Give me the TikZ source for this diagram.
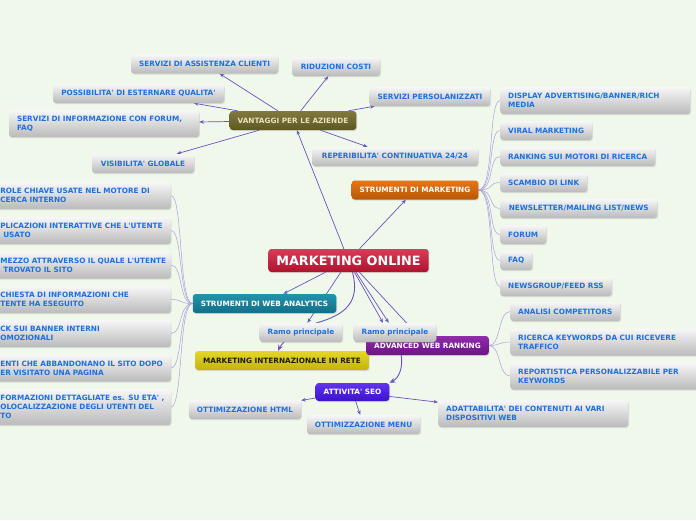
\documentclass[tikz,border=0pt]{standalone}
\usepackage{fontspec}
\setmainfont{DejaVu Sans}[Ligatures=TeXOff]
\usetikzlibrary{shadows,calc,arrows.meta}
\pgfdeclarelayer{bg}
\pgfsetlayers{bg,main}
\definecolor{bgc}{RGB}{240,248,236}
\definecolor{leafblue}{RGB}{28,112,224}
\definecolor{linec}{RGB}{106,82,196}
\definecolor{thinc}{RGB}{172,160,220}
\tikzset{
  base/.style={rounded corners=3pt, draw=none, inner xsep=8pt, inner ysep=0pt,
    font=\fontsize{7.3}{9}\selectfont\bfseries,
    drop shadow={shadow xshift=0.8pt, shadow yshift=-1.2pt, opacity=0.22}},
  leaf/.style={base, top color=white!97!black, bottom color=black!27, text=leafblue, minimum height=19pt},
  multi/.style={leaf, text width=174pt, align=left, minimum height=27pt},
  cutl/.style={leaf, text width=162.5pt, align=left, minimum height=27pt, anchor=east},
  mainc/.style={base, minimum height=19pt, text=white},
  arr/.style={draw=linec, line width=0.7pt, -{Stealth[length=4.5pt,width=3.6pt]}},
  arrb/.style={draw=linec, line width=0.9pt, -{Stealth[length=6pt,width=5pt]}},
  thinl/.style={draw=thinc, line width=0.5pt}
}
\begin{document}
\begin{tikzpicture}[x=1pt,y=-1pt]
\useasboundingbox (0,0) rectangle (696,520);

% central node
\node[base, minimum width=159pt, minimum height=23pt, text=white,
  top color={rgb,255:red,212;green,62;blue,88}, bottom color={rgb,255:red,176;green,18;blue,46},
  font=\fontsize{12.8}{14}\selectfont\bfseries] (MO) at (348.5,260.5) {MARKETING ONLINE};

% VANTAGGI
\node[mainc, minimum width=124pt, text={rgb,255:red,232;green,226;blue,188},
  top color={rgb,255:red,128;green,122;blue,62}, bottom color={rgb,255:red,92;green,88;blue,34}]
  (VANT) at (293,120.5) {VANTAGGI PER LE AZIENDE};
\node[leaf, minimum width=147pt] (SAC) at (204.5,64) {SERVIZI DI ASSISTENZA CLIENTI};
\node[leaf, minimum width=88pt] (RID) at (336,66.5) {RIDUZIONI COSTI};
\node[leaf, minimum width=171pt] (POSS) at (138.5,93.5) {POSSIBILITA' DI ESTERNARE QUALITA'};
\node[leaf, minimum width=120pt] (SPERS) at (430,96.5) {SERVIZI PERSOLANIZZATI};
\node[multi] (SINFO) at (104,123.5) {SERVIZI DI INFORMAZIONE CON FORUM,\\FAQ};
\node[leaf, minimum width=102pt] (VIS) at (143,163.5) {VISIBILITA' GLOBALE};
\node[leaf, minimum width=166pt] (REP) at (395,156.5) {REPERIBILITA' CONTINUATIVA 24/24};

% STRUMENTI DI MARKETING
\node[mainc, minimum width=124pt,
  top color={rgb,255:red,230;green,118;blue,22}, bottom color={rgb,255:red,184;green,88;blue,6}]
  (SM) at (415,190) {STRUMENTI DI MARKETING};
\node[multi, anchor=west] (D1) at (500,100.5) {DISPLAY ADVERTISING/BANNER/RICH\\MEDIA};
\node[leaf, anchor=west, minimum width=90pt] (D2) at (500,130.5) {VIRAL MARKETING};
\node[leaf, anchor=west, minimum width=154pt] (D3) at (500,156.5) {RANKING SUI MOTORI DI RICERCA};
\node[leaf, anchor=west, minimum width=86pt] (D4) at (500,182.5) {SCAMBIO DI LINK};
\node[leaf, anchor=west, minimum width=157pt] (D5) at (500,208.5) {NEWSLETTER/MAILING LIST/NEWS};
\node[leaf, anchor=west, minimum width=43pt] (D6) at (500,234.5) {FORUM};
\node[leaf, anchor=west, minimum width=31pt] (D7) at (500,260.5) {FAQ};
\node[leaf, anchor=west, minimum width=108pt] (D8) at (500,286.5) {NEWSGROUP/FEED RSS};

% WEB ANALYTICS
\node[mainc, minimum width=141pt,
  top color={rgb,255:red,34;green,148;blue,172}, bottom color={rgb,255:red,18;green,110;blue,136}]
  (WA) at (264.5,303.5) {STRUMENTI DI WEB ANALYTICS};
\node[cutl] (A1) at (171,195.5) {\mbox{ROLE CHIAVE USATE NEL MOTORE DI}\\\mbox{CERCA INTERNO}};
\node[cutl] (A2) at (171,230.5) {\mbox{PLICAZIONI INTERATTIVE CHE L'UTENTE}\\\mbox{\hspace*{3pt}USATO}};
\node[cutl] (A3) at (171,265) {\mbox{MEZZO ATTRAVERSO IL QUALE L'UTENTE}\\\mbox{\hspace*{3pt}TROVATO IL SITO}};
\node[cutl] (A4) at (171,299.5) {\mbox{CHIESTA DI INFORMAZIONI CHE}\\\mbox{TENTE HA ESEGUITO}};
\node[cutl] (A5) at (171,333.5) {\mbox{CK SUI BANNER INTERNI}\\\mbox{OMOZIONALI}};
\node[cutl] (A6) at (171,368) {\mbox{ENTI CHE ABBANDONANO IL SITO DOPO}\\\mbox{ER VISITATO UNA PAGINA}};
\node[cutl, minimum height=36pt] (A7) at (171,407) {\mbox{FORMAZIONI DETTAGLIATE es. SU ETA' ,}\\\mbox{OLOCALIZZAZIONE DEGLI UTENTI DEL}\\\mbox{TO}};

% MARKETING INTERNAZIONALE
\node[mainc, minimum width=170pt, text={rgb,255:red,30;green,28;blue,0},
  top color={rgb,255:red,228;green,214;blue,40}, bottom color={rgb,255:red,196;green,180;blue,14}]
  (MI) at (282,360.5) {MARKETING INTERNAZIONALE IN RETE};

% ADVANCED WEB RANKING
\node[mainc, minimum width=119pt,
  top color={rgb,255:red,144;green,44;blue,170}, bottom color={rgb,255:red,108;green,20;blue,132}]
  (AWR) at (427.5,345.5) {ADVANCED WEB RANKING};
\node[leaf, anchor=west, minimum width=109pt] (AW1) at (510,311.5) {ANALISI COMPETITORS};
\node[multi, anchor=west] (AW2) at (510,342) {RICERCA KEYWORDS DA CUI RICEVERE\\TRAFFICO};
\node[multi, anchor=west] (AW3) at (510,376) {REPORTISTICA PERSONALIZZABILE PER\\KEYWORDS};

% Ramo principale (on top of ADVANCED WEB RANKING)
\node[leaf, minimum width=78pt] (R1) at (301,332.5) {Ramo principale};
\node[leaf, minimum width=78pt] (R2) at (395,332.5) {Ramo principale};

% ATTIVITA' SEO
\node[mainc, minimum width=73pt, minimum height=18pt,
  top color={rgb,255:red,96;green,52;blue,240}, bottom color={rgb,255:red,60;green,18;blue,204}]
  (SEO) at (352.5,392) {ATTIVITA' SEO};
\node[leaf, minimum width=110pt] (HTML) at (245,409.5) {OTTIMIZZAZIONE HTML};
\node[leaf, minimum width=111pt] (MENU) at (363.5,424.5) {OTTIMIZZAZIONE MENU};
\node[multi, anchor=west] (ADAT) at (438,413.5) {ADATTABILITA' DEI CONTENUTI AI VARI\\DISPOSITIVI WEB};

\begin{pgfonlayer}{bg}
\fill[bgc] (0,0) rectangle (696,520);
% from root
\draw[arr] (MO) -- (VANT);
\draw[arr] (MO) -- (SM);
\draw[arr] (MO) -- (WA);
\draw[arr] (MO) -- (R1);
\draw[arr] (MO) -- (R2);
\draw[arr] ($(MO.south)+(6,0)$) -- ($(R2.north)+(-12,0)$);
\draw[arr] (MO) -- (AWR);
\draw[arrb] ($(MO.south)+(4,0)$) .. controls +(8,30) and +(28,-8) .. ($(R1.north)+(16,0)$)
  .. controls +(-18,6) and +(5,-10) .. ($(MI.north)+(-4,0)$);
\draw[arrb] ($(AWR.south)+(-27,-4)$) .. controls +(4,18) and +(8,-4) .. (SEO.north east);
% vantaggi
\foreach \n in {SAC,RID,POSS,SPERS,SINFO,VIS,REP} \draw[arr] (VANT) -- (\n);
% marketing tools
\foreach \n in {D1,D2,D3,D4,D5,D6,D7,D8}
  \draw[thinl] (SM.east) .. controls +(16,0) and +(-12,0) .. (\n.west);
% analytics
\foreach \n in {A1,A2,A3,A4,A5,A6,A7}
  \draw[thinl] (WA.west) .. controls +(-14,0) and +(12,0) .. (\n.east);
% advanced
\foreach \n in {AW1,AW2,AW3}
  \draw[thinl] (AWR.east) .. controls +(12,0) and +(-12,0) .. (\n.west);
% seo
\draw[arr] (SEO) -- (HTML);
\draw[arr] (SEO) -- (MENU);
\draw[arr] (SEO) -- (ADAT);
\end{pgfonlayer}
\end{tikzpicture}
\end{document}
